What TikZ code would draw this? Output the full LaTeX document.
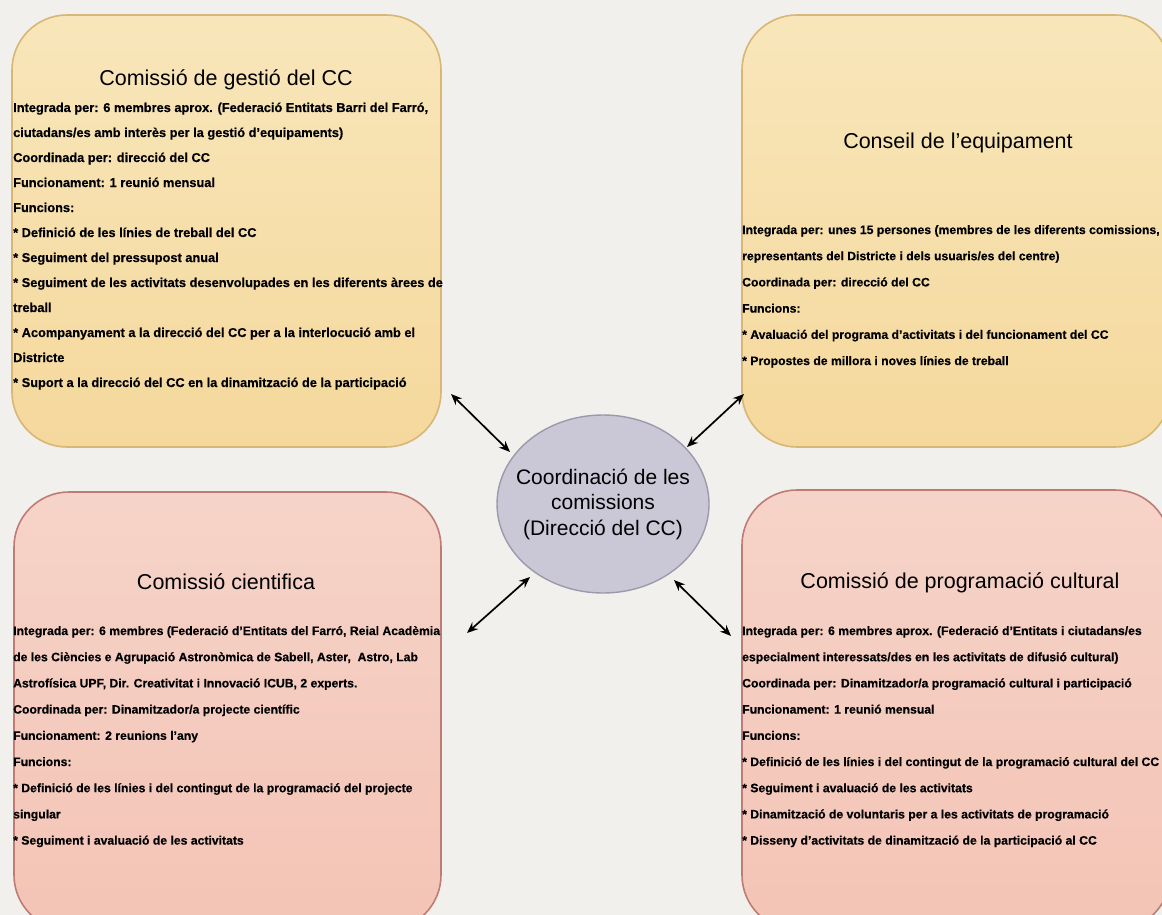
\documentclass[tikz,border=0pt]{standalone}
\usepackage{fontspec}
\setmainfont{Liberation Sans}
\newfontfamily\bodyfont{Liberation Sans}[Ligatures=TeX, BoldFeatures={FakeBold=0.5}]
\usetikzlibrary{arrows.meta,shapes.geometric}
\definecolor{bgc}{HTML}{F1F0EC}
\definecolor{ytop}{HTML}{F8E6BA}
\definecolor{ybot}{HTML}{F5D89C}
\definecolor{yedge}{HTML}{D8B676}
\definecolor{ptop}{HTML}{F6D3C8}
\definecolor{pbot}{HTML}{F3C4B6}
\definecolor{pedge}{HTML}{C07C74}
\definecolor{efill}{HTML}{CAC7D7}
\definecolor{eedge}{HTML}{9C99AA}
\tikzset{
  panel/.style={rectangle, rounded corners=55pt, line width=1.6pt, inner sep=0pt},
  ypanel/.style={panel, draw=yedge, top color=ytop, bottom color=ybot},
  ppanel/.style={panel, draw=pedge, top color=ptop, bottom color=pbot},
  ttl/.style={font=\fontsize{21.5}{25}\selectfont, inner sep=0pt},
  bodyA/.style={font=\fontsize{12.8}{14}\selectfont\bodyfont\bfseries, anchor=base west, inner sep=0pt},
  bodyB/.style={font=\fontsize{12.2}{14}\selectfont\bodyfont\bfseries, anchor=base west, inner sep=0pt},
  link/.style={line width=1.7pt, {Stealth[length=11pt,width=9pt]}-{Stealth[length=11pt,width=9pt]}}
}
\begin{document}
\begin{tikzpicture}[x=1pt,y=-1pt]
\useasboundingbox (0,0) rectangle (1162,915);
\clip (0,0) rectangle (1162,915);
\fill[bgc] (0,0) rectangle (1162,915);

% panels
\node[ypanel, minimum width=429pt, minimum height=432pt] (tl) at (226.5,231) {};
\node[ypanel, minimum width=428pt, minimum height=432pt] (tr) at (956,231) {};
\node[ppanel, minimum width=427pt, minimum height=438pt] (bl) at (227.5,711) {};
\node[ppanel, minimum width=428pt, minimum height=440pt] (br) at (956,710) {};

% centre
\node[ellipse, draw=eedge, fill=efill, line width=1.4pt, minimum width=212pt, minimum height=178pt,
      inner sep=0pt] (c) at (603,504) {};
\node[align=center, inner sep=0pt, font=\fontsize{21}{25.5}\selectfont] (ct) at (c.center)
      {Coordinació de les\\comissions\\(Direcció del CC)};

% titles
\node[ttl] (tlt) at (226,80) {Comissió de gestió del CC};
\node[ttl] (trt) at (958,143) {Conseil de l'equipament};
\node[ttl] (blt) at (226,582) {Comissió cientifica};
\node[ttl] (brt) at (960,583) {Comissió de programació cultural};

% body texts
\foreach \t [count=\i] in {
  {Integrada per: 6 membres aprox. (Federació Entitats Barri del Farró,},
  {ciutadans/es amb interès per la gestió d'equipaments)},
  {Coordinada per: direcció del CC},
  {Funcionament: 1 reunió mensual},
  {Funcions:},
  {* Definició de les línies de treball del CC},
  {* Seguiment del pressupost anual},
  {* Seguiment de les activitats desenvolupades en les diferents àrees de},
  {treball},
  {* Acompanyament a la direcció del CC per a la interlocució amb el},
  {Districte},
  {* Suport a la direcció del CC en la dinamització de la participació}}
  \node[bodyA] (tl\i) at (13,{112+(\i-1)*25}) {\t};

\foreach \t [count=\i] in {
  {Integrada per: unes 15 persones (membres de les diferents comissions,},
  {representants del Districte i dels usuaris/es del centre)},
  {Coordinada per: direcció del CC},
  {Funcions:},
  {* Avaluació del programa d'activitats i del funcionament del CC},
  {* Propostes de millora i noves línies de treball}}
  \node[bodyB] (tr\i) at (742,{234+(\i-1)*26.2}) {\t};

\foreach \t [count=\i] in {
  {Integrada per: 6 membres (Federació d'Entitats del Farró, Reial Acadèmia},
  {de les Ciències e Agrupació Astronòmica de Sabell, Aster,\ \ Astro, Lab},
  {Astrofísica UPF, Dir. Creativitat i Innovació ICUB, 2 experts.},
  {Coordinada per: Dinamitzador/a projecte científic},
  {Funcionament: 2 reunions l'any},
  {Funcions:},
  {* Definició de les línies i del contingut de la programació del projecte},
  {singular},
  {* Seguiment i avaluació de les activitats}}
  \node[bodyB] (bl\i) at (13,{635+(\i-1)*26.2}) {\t};

\foreach \t [count=\i] in {
  {Integrada per: 6 membres aprox. (Federació d'Entitats i ciutadans/es},
  {especialment interessats/des en les activitats de difusió cultural)},
  {Coordinada per: Dinamitzador/a programació cultural i participació},
  {Funcionament: 1 reunió mensual},
  {Funcions:},
  {* Definició de les línies i del contingut de la programació cultural del CC},
  {* Seguiment i avaluació de les activitats},
  {* Dinamització de voluntaris per a les activitats de programació},
  {* Disseny d'activitats de dinamització de la participació al CC}}
  \node[bodyB] (br\i) at (742,{635+(\i-1)*26.2}) {\t};

% connectors
\coordinate (a1) at (451,394);
\coordinate (e1) at (510,452);
\coordinate (a2) at (744,394);
\coordinate (e2) at (687,447);
\coordinate (a3) at (467,633);
\coordinate (e3) at (530,577);
\coordinate (a4) at (731,636);
\coordinate (e4) at (674,580);
\draw[link] (a1) -- (e1);
\draw[link] (a2) -- (e2);
\draw[link] (a3) -- (e3);
\draw[link] (a4) -- (e4);
\end{tikzpicture}
\end{document}
